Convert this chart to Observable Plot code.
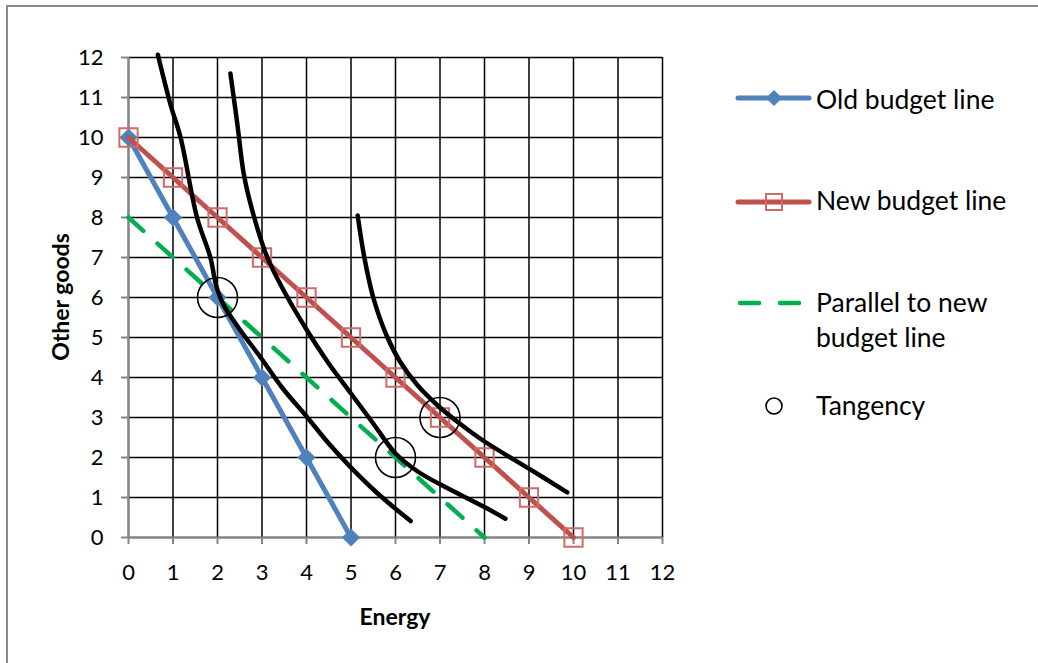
<!DOCTYPE html>
<html>
<head>
<meta charset="utf-8">
<script src="https://cdn.jsdelivr.net/npm/d3@7"></script>
<script src="https://cdn.jsdelivr.net/npm/@observablehq/plot@0.6"></script>
<style>
  html, body { margin: 0; padding: 0; background: #fff; }
  #wrap { position: relative; width: 1038px; height: 663px; overflow: hidden; font-family: Lato, "Open Sans", sans-serif; }
  #frame { position: absolute; left: 6px; top: 5px; width: 1040px; height: 670px; border-left: 2px solid #8a8a8a; border-top: 2px solid #8a8a8a; box-sizing: border-box; }
  #chart, #legend { position: absolute; left: 0; top: 0; }
  .ttl { position: absolute; font-weight: bold; font-size: 23px; color: #000; white-space: nowrap; }
</style>
</head>
<body>
<div id="wrap">
  <div id="frame"></div>
  <div id="chart"></div>
  <svg id="legend" width="1038" height="663"></svg>
  <div class="ttl" id="xt">Energy</div>
  <div class="ttl" id="yt">Other goods</div>
</div>
<script>
// ---- data ----
const ticks = [0, 1, 2, 3, 4, 5, 6, 7, 8, 9, 10, 11, 12];

const oldX = [0, 1, 2, 3, 4, 5];
const oldY = [10, 8, 6, 4, 2, 0];

const newX = [0, 1, 2, 3, 4, 5, 6, 7, 8, 9, 10];
const newY = [10, 9, 8, 7, 6, 5, 4, 3, 2, 1, 0];

const parX = [0, 8];
const parY = [8, 0];

// indifference curves (hand-drawn)
const ic1X = [0.66, 0.95, 1.17, 1.54, 1.84, 1.97, 2.12, 2.5, 2.97, 3.45, 4.02, 4.5, 4.99, 5.6, 6.34];
const ic1Y = [12.07, 10.8, 10.0, 8.0, 7.0, 6.3, 5.85, 5.2, 4.5, 3.75, 3.0, 2.35, 1.76, 1.1, 0.41];

const ic2X = [2.29, 2.45, 2.59, 2.8, 3.12, 3.5, 4.0, 4.5, 5.0, 5.5, 6.0, 6.5, 7.0, 8.0, 8.47];
const ic2Y = [11.6, 10.3, 9.09, 8.1, 7.0, 6.15, 5.2, 4.35, 3.6, 2.85, 2.1, 1.65, 1.33, 0.76, 0.47];

const ic3X = [5.15, 5.3, 5.5, 5.8, 6.1, 6.5, 7.0, 7.5, 8.0, 9.0, 9.86];
const ic3Y = [8.05, 7.0, 6.0, 5.05, 4.4, 3.8, 3.25, 2.8, 2.4, 1.72, 1.13];

const tanX = [2, 6, 7];
const tanY = [6, 2, 3];

// ---- tables ----
const pts = (xs, ys) => xs.map((x, i) => ({x, y: ys[i]}));
const oldLine = pts(oldX, oldY);
const newLine = pts(newX, newY);
const parLine = pts(parX, parY);
const ic1 = pts(ic1X, ic1Y);
const ic2 = pts(ic2X, ic2Y);
const ic3 = pts(ic3X, ic3Y);
const tang = pts(tanX, tanY);

const BLUE = "#4F81BD", RED = "#C0504D", GREEN = "#00B050", AX = "#868686";

const plot = Plot.plot({
  width: 1038,
  height: 663,
  marginLeft: 128,
  marginRight: 376,
  marginTop: 57,
  marginBottom: 126,
  x: {domain: [0, 12]},
  y: {domain: [0, 12]},
  style: {fontFamily: "Lato, 'Open Sans', sans-serif", fontSize: "21px", background: "transparent", color: "#000"},
  marks: [
    Plot.gridX(ticks, {stroke: "#000", strokeOpacity: 1, strokeWidth: 1.5}),
    Plot.gridY(ticks, {stroke: "#000", strokeOpacity: 1, strokeWidth: 1.5}),
    Plot.ruleX([0], {stroke: AX, strokeWidth: 2.2}),
    Plot.ruleY([0], {stroke: AX, strokeWidth: 2.2}),
    Plot.axisX(ticks, {tickSize: 7, tickPadding: 20, stroke: AX, strokeWidth: 2, fill: "#000", fontSize: 21, label: null, tickFormat: d => String(d)}),
    Plot.axisY(ticks, {tickSize: 7, tickPadding: 18, stroke: AX, strokeWidth: 2, fill: "#000", fontSize: 21, label: null, tickFormat: d => String(d)}),
    Plot.line(parLine, {x: "x", y: "y", stroke: GREEN, strokeWidth: 4.5, strokeDasharray: "20,19", strokeLinecap: "round"}),
    Plot.line(oldLine, {x: "x", y: "y", stroke: BLUE, strokeWidth: 5}),
    Plot.dot(oldLine, {x: "x", y: "y", symbol: "diamond2", r: 8.2, fill: BLUE, stroke: "none"}),
    Plot.line(newLine, {x: "x", y: "y", stroke: RED, strokeWidth: 5}),
    Plot.dot(newLine, {x: "x", y: "y", symbol: "square", r: 10.3, fill: "none", stroke: "#CF6A67", strokeWidth: 2}),
    Plot.line(ic1, {x: "x", y: "y", curve: "catmull-rom", stroke: "#000", strokeWidth: 4.5}),
    Plot.line(ic2, {x: "x", y: "y", curve: "catmull-rom", stroke: "#000", strokeWidth: 4.5}),
    Plot.line(ic3, {x: "x", y: "y", curve: "catmull-rom", stroke: "#000", strokeWidth: 4.5}),
    Plot.dot(tang, {x: "x", y: "y", r: 20, fill: "none", stroke: "#000", strokeWidth: 1.6})
  ]
});
d3.select(plot).selectAll("g[aria-label$='tick label'] text").attr("font-size", 22);
document.getElementById("chart").appendChild(plot);

// axis titles
const xt = document.getElementById("xt");
xt.style.left = "395px"; xt.style.top = "616px"; xt.style.transform = "translate(-50%,-50%)";
const yt = document.getElementById("yt");
yt.style.left = "60px"; yt.style.top = "297px"; yt.style.transform = "translate(-50%,-50%) rotate(-90deg)";

// legend
const lg = d3.select("#legend");
const fontLg = "Lato, 'Open Sans', sans-serif";
const item = (y, label) => lg.append("text").attr("x", 816).attr("y", y)
  .attr("font-family", fontLg).attr("font-size", 26.5).attr("fill", "#000").text(label);

// old
lg.append("line").attr("x1", 738).attr("x2", 809).attr("y1", 98).attr("y2", 98)
  .attr("stroke", BLUE).attr("stroke-width", 5).attr("stroke-linecap", "round");
lg.append("path").attr("d", d3.symbol(d3.symbolDiamond2, Math.PI * 7.3 * 7.3)())
  .attr("transform", "translate(774,98)").attr("fill", BLUE);
item(109, "Old budget line");
// new
lg.append("line").attr("x1", 738).attr("x2", 809).attr("y1", 202).attr("y2", 202)
  .attr("stroke", RED).attr("stroke-width", 5).attr("stroke-linecap", "round");
lg.append("rect").attr("x", 766).attr("y", 194).attr("width", 16).attr("height", 16)
  .attr("fill", "none").attr("stroke", "#CF6A67").attr("stroke-width", 2);
item(210, "New budget line");
// parallel
lg.append("line").attr("x1", 740).attr("x2", 759).attr("y1", 303).attr("y2", 303)
  .attr("stroke", GREEN).attr("stroke-width", 4.5).attr("stroke-linecap", "round");
lg.append("line").attr("x1", 780).attr("x2", 799).attr("y1", 303).attr("y2", 303)
  .attr("stroke", GREEN).attr("stroke-width", 4.5).attr("stroke-linecap", "round");
item(312, "Parallel to new");
item(347, "budget line");
// tangency
lg.append("circle").attr("cx", 774).attr("cy", 406).attr("r", 8)
  .attr("fill", "none").attr("stroke", "#000").attr("stroke-width", 1.6);
item(415, "Tangency");
</script>
</body>
</html>
